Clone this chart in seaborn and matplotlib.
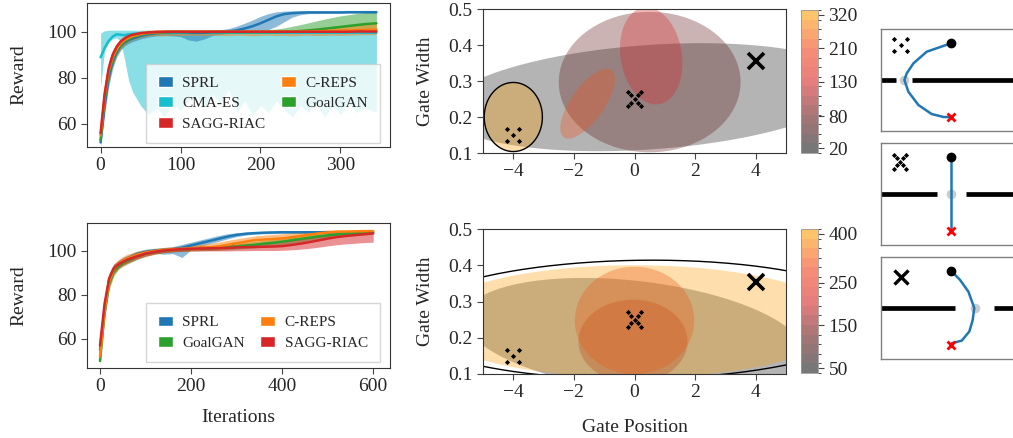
import numpy as np
import seaborn as sns
import matplotlib.pyplot as plt
from matplotlib.patches import Patch
from matplotlib.colors import LinearSegmentedColormap, ListedColormap, BoundaryNorm
from matplotlib.cm import ScalarMappable

sns.set_style("ticks")
plt.rcParams['font.family'] = ['Liberation Serif', 'DejaVu Serif']

pal = sns.color_palette("tab10")
c_sprl, c_creps, c_goal, c_sagg, c_cma = pal[0], pal[1], pal[2], pal[3], pal[9]

# ---------------- reward curves, top (gate env 1) ----------------
it_top = [0, 5, 10, 15, 20, 25, 30, 35, 40, 50, 60, 70, 80, 90, 100, 110, 120, 130, 140, 150,
          160, 170, 180, 190, 200, 210, 220, 230, 240, 250, 260, 270, 280, 290, 300, 310, 320, 330, 345]

sprl_m = [52, 68, 80, 87, 91, 94, 95.5, 96.5, 97.2, 98.3, 99, 99.5, 99.8, 100, 100, 99.8, 99.6, 99.7, 100, 100,
          100.2, 100.7, 101.5, 102.5, 103.8, 105.3, 106.8, 107.8, 108.2, 108.4, 108.5, 108.5, 108.5, 108.5, 108.5, 108.6, 108.6, 108.6, 108.6]
sprl_lo = [50, 64, 76, 84, 89, 92, 94, 95, 95.8, 97, 97.8, 98.3, 98.5, 98.3, 98, 96.5, 96, 97, 98.5, 99,
           99.3, 99.5, 99.6, 99.8, 100.2, 101, 102.5, 104.5, 106.5, 107.5, 108, 108, 108.1, 108.1, 108.1, 108.2, 108.2, 108.2, 108.2]
sprl_hi = [55, 72, 84, 90, 93, 96, 97, 98, 98.6, 99.5, 100, 100.4, 100.6, 100.7, 100.7, 100.6, 100.6, 100.7, 100.8, 101,
           101.5, 102.5, 103.8, 105.2, 106.8, 108, 108.8, 109.1, 109.2, 109.2, 109.2, 109.2, 109.2, 109.2, 109.2, 109.2, 109.2, 109.2, 109.2]

cma_m = [89, 93, 96, 98, 99, 98.8, 98.6, 99, 99.2, 99.4, 99.5, 99.6, 99.6, 99.6, 99.7, 99.7, 99.7, 99.7, 99.7, 99.7,
         99.7, 99.7, 99.7, 99.7, 99.7, 99.7, 99.7, 99.7, 99.7, 99.7, 99.7, 99.7, 99.7, 99.7, 99.7, 99.7, 99.7, 99.7, 99.7]
cma_lo = [76, 92, 95.5, 97, 97.5, 96, 88, 79, 74, 68, 64, 67, 63, 69, 66, 70, 72, 67, 73, 69,
          75, 65, 70, 64, 68, 65, 70, 66, 63, 68, 65, 69, 63, 68, 64, 69, 65, 67, 65]
cma_hi = [99.5, 100.5, 100.8, 100.8, 100.8, 100.8, 100.8, 100.8, 100.8, 100.8, 100.8, 100.8, 100.8, 100.8, 100.8, 100.8, 100.8, 100.8, 100.8, 100.8,
          100.8, 100.8, 100.8, 100.8, 100.8, 100.8, 100.8, 100.8, 100.8, 100.8, 100.8, 100.8, 100.8, 100.8, 100.8, 100.8, 100.8, 100.8, 100.8]

goal_m = [53, 70, 82, 88, 92, 94.5, 96, 97, 97.8, 98.8, 99.4, 99.7, 99.9, 100, 100, 100, 100, 100, 100, 100,
          100, 100, 100, 100, 100, 100, 100, 100.1, 100.2, 100.4, 100.7, 101, 101.4, 101.8, 102.2, 102.6, 103, 103.4, 103.8]
goal_lo = [51, 66, 78, 85, 90, 92.5, 94.5, 95.8, 96.8, 98, 98.7, 99.1, 99.3, 99.4, 99.4, 99.4, 99.4, 99.4, 99.4, 99.4,
           99.4, 99.4, 99.4, 99.4, 99.4, 99.4, 99.4, 99.4, 99.4, 99.5, 99.5, 99.6, 99.7, 99.8, 99.9, 100, 100.1, 100.2, 100.3]
goal_hi = [55, 73, 85, 90.5, 94, 96, 97.3, 98.2, 98.8, 99.6, 100.1, 100.4, 100.5, 100.6, 100.6, 100.6, 100.6, 100.6, 100.6, 100.6,
           100.6, 100.6, 100.6, 100.7, 100.8, 101, 101.3, 101.8, 102.5, 103.2, 104, 104.8, 105.6, 106.3, 107, 107.5, 108, 108.4, 108.7]

creps_m = [55, 72, 83, 89, 92.5, 95, 96.5, 97.5, 98.2, 99.1, 99.6, 99.9, 100, 100.1, 100.1, 100.1, 100.1, 100.1, 100.1, 100.1,
           100.1, 100.1, 100.1, 100.1, 100.1, 100.1, 100.1, 100.1, 100.1, 100.1, 100.2, 100.3, 100.4, 100.5, 100.6, 100.7, 100.8, 100.9, 101]
creps_lo = [52, 67, 79, 86, 90, 92.8, 94.5, 95.7, 96.5, 97.6, 98.2, 98.4, 98.3, 98.5, 98.4, 98.6, 98.5, 98.4, 98.6, 98.5,
            98.4, 98.6, 98.5, 98.3, 98.5, 98.6, 98.4, 98.5, 98.3, 98.5, 98.6, 98.4, 98.5, 98.6, 98.5, 98.6, 98.7, 98.8, 98.8]
creps_hi = [58, 76, 87, 92, 95, 97, 98.2, 99, 99.6, 100.4, 100.8, 101, 101, 101, 101, 101, 101, 101, 101, 101,
            101, 101, 101, 101, 101, 101, 101, 101, 101, 101.2, 101.5, 101.8, 102.1, 102.4, 102.7, 103, 103.3, 103.6, 104]

sagg_m = [56, 73, 84, 90, 93.5, 95.8, 97.2, 98.2, 98.8, 99.5, 99.8, 100, 100.1, 100.1, 100.1, 100.1, 100.1, 100.1, 100.1, 100.1,
          100.1, 100.1, 100.1, 100.1, 100.1, 100.1, 100.1, 100.1, 100.1, 100.1, 100.1, 100.1, 100.1, 100.1, 100.1, 100.1, 100.2, 100.2, 100.2]
sagg_lo = [52, 69, 81, 88, 92, 94.6, 96.2, 97.4, 98.1, 98.9, 99.2, 99.4, 99.5, 99.5, 99.5, 99.5, 99.5, 99.5, 99.5, 99.5,
           99.5, 99.5, 99.5, 99.5, 99.5, 99.5, 99.5, 99.5, 99.5, 99.5, 99.5, 99.5, 99.5, 99.5, 99.5, 99.5, 99.5, 99.5, 99.5]
sagg_hi = [60, 77, 87, 92, 95, 97, 98.2, 99, 99.5, 100.1, 100.4, 100.6, 100.7, 100.7, 100.7, 100.7, 100.7, 100.7, 100.7, 100.7,
           100.7, 100.7, 100.7, 100.7, 100.7, 100.7, 100.7, 100.7, 100.7, 100.7, 100.7, 100.7, 100.8, 100.8, 100.8, 100.9, 100.9, 101, 101]

# ---------------- reward curves, bottom (gate env 2) ----------------
it_bot = [0, 10, 20, 30, 40, 50, 60, 80, 100, 120, 140, 160, 180, 200, 220, 240, 260, 280, 300, 320,
          340, 360, 380, 400, 420, 440, 460, 480, 500, 520, 540, 560, 580, 600]

sprl_b_m = [55, 74, 87, 92, 94, 95.5, 96.5, 98.5, 99.6, 100.2, 100.5, 100.8, 101.5, 102.5, 103.5, 104.5, 105.5, 106.5, 107.3, 107.8,
            108.1, 108.3, 108.4, 108.5, 108.5, 108.5, 108.5, 108.5, 108.5, 108.5, 108.5, 108.5, 108.5, 108.5]
sprl_b_lo = [52, 71, 85, 90.5, 92.5, 94, 95, 97, 98.3, 99, 98.5, 98.8, 97, 100.5, 102, 103.3, 104.3, 105.5, 106.5, 107.2,
             107.6, 107.8, 107.9, 108, 108, 108, 108, 108, 108, 108, 108, 108, 108, 108]
sprl_b_hi = [58, 77, 89, 93.5, 95.5, 97, 98, 99.8, 100.8, 101.2, 101.5, 102, 103, 104, 105, 106, 107, 107.8, 108.3, 108.6,
             108.8, 108.9, 109, 109, 109, 109, 109, 109, 109, 109, 109, 109, 109, 109]

goal_b_m = [50, 72, 85, 90.5, 93, 94.5, 95.5, 97.5, 98.8, 99.6, 100.2, 100.6, 100.8, 101, 101.1, 101.2, 101.4, 101.7, 102, 102.4,
            102.8, 103.3, 103.7, 104.2, 104.8, 105.4, 106, 106.6, 107.1, 107.5, 107.8, 108.1, 108.3, 108.5]
goal_b_lo = [48, 69, 82.5, 88.5, 91.5, 93, 94, 96, 97.5, 98.5, 99.2, 99.6, 99.8, 100, 100.1, 100.2, 100.3, 100.5, 100.8, 101.1,
             101.4, 101.8, 102.2, 102.7, 103.3, 104, 104.7, 105.3, 105.8, 106.3, 106.7, 107, 107.3, 107.5]
goal_b_hi = [52, 75, 87.5, 92.5, 94.5, 96, 97, 98.8, 99.9, 100.6, 101.1, 101.5, 101.8, 102, 102.2, 102.4, 102.6, 103, 103.4, 103.8,
             104.3, 104.8, 105.3, 105.8, 106.4, 107, 107.5, 107.9, 108.3, 108.6, 108.8, 109, 109.2, 109.3]

creps_b_m = [52, 73, 86, 91.5, 94, 95.5, 96.5, 98.2, 99.3, 100, 100.5, 100.8, 101, 101.2, 101.4, 101.6, 102, 102.8, 103.5, 104.2,
             104.9, 105.2, 105.4, 105.7, 106.2, 106.8, 107.4, 108, 108.4, 108.7, 108.8, 108.9, 109, 109]
creps_b_lo = [49, 69, 83, 89, 92, 93.5, 94.5, 96.5, 97.8, 98.8, 99.3, 99.6, 99.8, 100, 100.2, 100.3, 100.5, 101, 101.6, 102.2,
              102.8, 103.2, 103.5, 103.9, 104.4, 105, 105.6, 106.2, 106.8, 107.2, 107.5, 107.7, 107.9, 108]
creps_b_hi = [55, 77, 89, 94, 96, 97.5, 98.5, 99.8, 100.6, 101.1, 101.6, 101.9, 102.2, 102.5, 102.9, 103.4, 104, 104.8, 105.5, 106.2,
              106.8, 107.2, 107.5, 107.8, 108.2, 108.6, 109, 109.3, 109.5, 109.6, 109.6, 109.6, 109.6, 109.6]

sagg_b_m = [57, 76, 87.5, 92, 93.8, 95, 96, 97.5, 98.8, 99.6, 100.2, 100.6, 100.8, 101, 101.1, 101.2, 101.3, 101.4, 101.6, 101.7,
            101.8, 101.9, 102, 102.2, 102.7, 103.3, 104, 104.8, 105.6, 106.3, 106.8, 107.2, 107.6, 108]
sagg_b_lo = [54, 73, 85, 90, 92, 93.5, 94.5, 96.2, 97.6, 98.5, 99.2, 99.6, 99.8, 100, 100, 100, 100, 100, 100.1, 100.1,
             100.2, 100.2, 100.2, 100.3, 100.5, 100.8, 101.2, 101.7, 102.3, 102.8, 103.2, 103.5, 103.8, 104]
sagg_b_hi = [60, 79, 90, 94, 95.5, 96.5, 97.5, 98.8, 100, 100.7, 101.2, 101.6, 101.8, 102, 102.2, 102.4, 102.6, 102.8, 103, 103.2,
             103.4, 103.6, 103.8, 104.1, 104.7, 105.4, 106.2, 107, 107.7, 108.2, 108.6, 108.9, 109.1, 109.3]

# ---------------- context distributions (ellipses: cx, cy, semi-x, semi-y, corr) ----------------
top_iters = [20, 80, 130, 210, 320]
top_cb_pos = [0.5, 3.85, 7.5, 11.0, 14.5]
top_cx = [0.5, 0.5, 0.55, -1.55, -4.0]
top_cy = [0.255, 0.297, 0.37, 0.237, 0.2]
top_sx = [6.8, 3.0, 1.03, 0.9, 0.96]
top_sy = [0.15, 0.195, 0.135, 0.097, 0.096]
top_rho = [0.25, 0.0, -0.15, 0.7, 0.0]

bot_iters = [50, 150, 250, 400]
bot_cb_pos = [0.5, 5.0, 9.4, 14.5]
bot_cx = [0.0, -0.05, 0.0, 0.0]
bot_cy = [0.205, 0.19, 0.248, 0.245]
bot_sx = [5.6, 1.8, 1.97, 6.9]
bot_sy = [0.16, 0.115, 0.148, 0.155]
bot_rho = [-0.3, 0.0, 0.0, 0.0]
bot_outline = (0.2, 0.25, 7.9, 0.164, 0.05)

# target contexts
easy_pos, easy_width = -4.0, 0.15
mid_pos, mid_width = 0.0, 0.25
far_pos, far_width = 4.0, 0.355
dice_dx = [-0.2, 0.2, 0.0, -0.2, 0.2]
dice_dy = [0.017, 0.017, 0.0, -0.017, -0.017]
cross_dx = [-0.2, -0.1, 0.0, 0.1, 0.2, -0.2, -0.1, 0.1, 0.2]
cross_dy = [0.02, 0.01, 0.0, -0.01, -0.02, -0.02, -0.01, 0.01, 0.02]

# ---------------- trajectories in the small panels ----------------
gate_x = [-4.0, 0.04, 2.0]
gate_w = [1.36, 2.47, 3.3]
traj1_x = [0, -2.07, -3.2, -3.77, -3.97, -3.63, -2.78, -1.65, -0.65, 0]
traj1_y = [0.72, 0.555, 0.327, 0.13, 0.0, -0.23, -0.49, -0.667, -0.725, -0.73]
traj2_x = [0, 0, 0]
traj2_y = [0.72, 0.0, -0.72]
traj3_x = [0, 0.77, 1.48, 1.98, 1.84, 1.56, 0.91, 0.06]
traj3_y = [0.73, 0.55, 0.32, 0.0, -0.24, -0.46, -0.64, -0.69]
start_xy = (0.0, 0.72)
goal_xy = (0.0, -0.72)

W, H = 1013, 438
fig = plt.figure(figsize=(W / 100, H / 100), dpi=100)


def px_axes(l, t, r, b):
    return fig.add_axes([l / W, 1 - b / H, (r - l) / W, (b - t) / H])


FS = 14


def reward_panel(ax, it, series, xticks, ylim, xlim, show_xlabel, legend_order, leg_y):
    for name, col, m, lo, hi in series:
        ax.fill_between(it, lo, hi, color=col, alpha=0.5, lw=0)
    for name, col, m, lo, hi in series:
        sns.lineplot(x=it, y=m, ax=ax, color=col, lw=1.8)
    ax.set_xlim(*xlim)
    ax.set_ylim(*ylim)
    ax.set_xticks(xticks)
    ax.set_yticks([60, 80, 100])
    ax.set_ylabel("Reward", fontsize=FS, labelpad=14)
    if show_xlabel:
        ax.set_xlabel("Iterations", fontsize=FS, labelpad=10)
    ax.tick_params(labelsize=FS, length=4, color="#444444")
    cols = {s[0]: s[1] for s in series}
    handles = [Patch(facecolor=cols[n], label=n) for n in legend_order]
    ax.legend(handles=handles, ncol=2, loc="lower right", fontsize=11, handlelength=1.0,
              handleheight=0.7, handletextpad=0.6, columnspacing=1.0, borderpad=0.8,
              labelspacing=0.45, borderaxespad=0, fancybox=False, framealpha=0.8,
              edgecolor="#cccccc", bbox_to_anchor=(0.967, leg_y))
    for s in ax.spines.values():
        s.set_color("#333333")


ax1 = px_axes(87, 3, 390, 147)
reward_panel(ax1, it_top,
             [("CMA-ES", c_cma, cma_m, cma_lo, cma_hi),
              ("SPRL", c_sprl, sprl_m, sprl_lo, sprl_hi),
              ("GoalGAN", c_goal, goal_m, goal_lo, goal_hi),
              ("C-REPS", c_creps, creps_m, creps_lo, creps_hi),
              ("SAGG-RIAC", c_sagg, sagg_m, sagg_lo, sagg_hi)],
             [0, 100, 200, 300], (50, 112.6), (-17, 362), False,
             ["SPRL", "CMA-ES", "SAGG-RIAC", "C-REPS", "GoalGAN"], 0.028)

ax2 = px_axes(87, 223, 390, 368)
reward_panel(ax2, it_bot,
             [("SPRL", c_sprl, sprl_b_m, sprl_b_lo, sprl_b_hi),
              ("GoalGAN", c_goal, goal_b_m, goal_b_lo, goal_b_hi),
              ("C-REPS", c_creps, creps_b_m, creps_b_lo, creps_b_hi),
              ("SAGG-RIAC", c_sagg, sagg_b_m, sagg_b_lo, sagg_b_hi)],
             [0, 200, 400, 600], (46.8, 112.7), (-28.6, 637), True,
             ["SPRL", "GoalGAN", "C-REPS", "SAGG-RIAC"], 0.041)

# colormap: near-black -> dark red -> red -> orange
base_cmap = LinearSegmentedColormap.from_list(
    "gate", ["#1c1c1c", "#6e1a1a", "#d82828", "#f0441a", "#fc9d07"], N=256)
seg_cols = base_cmap(np.linspace(0, 1, 15))


def ellipse_xy(cx, cy, sx, sy, rho):
    t = np.linspace(0, 2 * np.pi, 300)
    x = cx + sx * np.cos(t)
    y = cy + sy * (rho * np.cos(t) + np.sqrt(1 - rho ** 2) * np.sin(t))
    return x, y


def context_panel(ax, cax, iters, pos, cxs, cys, sxs, sys_, rhos, outline, show_xlabel):
    n = len(iters)
    for i in range(n):
        x, y = ellipse_xy(cxs[i], cys[i], sxs[i], sys_[i], rhos[i])
        ax.fill(x, y, color=seg_cols[int(pos[i])], alpha=0.33, lw=0)
    ox, oy = ellipse_xy(*outline)
    ax.plot(ox, oy, color="black", lw=1.0)
    ax.scatter([easy_pos + d for d in dice_dx], [easy_width + d for d in dice_dy],
               marker="D", s=7, color="black", lw=0, zorder=5)
    ax.scatter([mid_pos + d for d in cross_dx], [mid_width + d for d in cross_dy],
               marker="D", s=7, color="black", lw=0, zorder=5)
    ax.plot([far_pos], [far_width], marker="x", ms=11, mew=2.6, color="black", zorder=5)
    ax.set_xlim(-5, 5)
    ax.set_ylim(0.1, 0.5)
    ax.set_xticks([-4, -2, 0, 2, 4])
    ax.set_yticks([0.1, 0.2, 0.3, 0.4, 0.5])
    ax.set_ylabel("Gate Width", fontsize=FS, labelpad=10)
    if show_xlabel:
        ax.set_xlabel("Gate Position", fontsize=FS, labelpad=13)
    ax.tick_params(labelsize=FS, length=4, color="#444444")
    for s in ax.spines.values():
        s.set_color("#333333")
    cb_cols = seg_cols.copy()
    cb_cols[:, 3] = 0.6
    sm = ScalarMappable(norm=BoundaryNorm(np.arange(16), 15), cmap=ListedColormap(cb_cols))
    cb = fig.colorbar(sm, cax=cax, ticks=pos)
    cb.ax.set_yticklabels([str(v) for v in iters])
    cb.ax.tick_params(labelsize=FS, length=4, color="#444444")
    cb.outline.set_edgecolor("#999999")
    cb.outline.set_linewidth(0.6)


axm1 = px_axes(483, 9, 786, 153)
cb1 = px_axes(801, 10, 818, 153)
context_panel(axm1, cb1, top_iters, top_cb_pos, top_cx, top_cy, top_sx, top_sy, top_rho,
              (top_cx[-1], top_cy[-1], top_sx[-1], top_sy[-1], top_rho[-1]), False)

axm2 = px_axes(483, 229, 786, 374)
cb2 = px_axes(801, 229, 818, 373)
context_panel(axm2, cb2, bot_iters, bot_cb_pos, bot_cx, bot_cy, bot_sx, bot_sy, bot_rho,
              bot_outline, True)

# small trajectory panels
panels = [px_axes(881, 29, 1020, 131), px_axes(881, 143, 1020, 245), px_axes(881, 257, 1020, 359)]
trajs = [(traj1_x, traj1_y), (traj2_x, traj2_y), (traj3_x, traj3_y)]
icon_centers = [(-4.3, 0.69), (-4.34, 0.63), (-4.28, 0.61)]
xl = (-5.96, 5.87)
for k, ax in enumerate(panels):
    g, w = gate_x[k], gate_w[k]
    ax.plot([xl[0], g - w / 2], [0, 0], color="black", lw=3.4, solid_capstyle="butt")
    ax.plot([g + w / 2, xl[1]], [0, 0], color="black", lw=3.4, solid_capstyle="butt")
    ax.plot([g], [0], "o", ms=7, color="#cccccc", mec="none", zorder=3)
    ax.plot(trajs[k][0], trajs[k][1], color=c_sprl, lw=1.8, zorder=4)
    ax.plot([start_xy[0]], [start_xy[1]], "o", ms=6, color="black", zorder=5)
    ax.plot([goal_xy[0]], [goal_xy[1]], "x", ms=6, mew=2, color="red", zorder=5)
    icx, icy = icon_centers[k]
    if k == 0:
        ax.scatter([icx + 2.7 * d for d in dice_dx], [icy + 6.9 * d for d in dice_dy],
                   marker="D", s=7, color="black", lw=0)
    elif k == 1:
        ax.scatter([icx + 2.7 * d for d in cross_dx], [icy + 6.9 * d for d in cross_dy],
                   marker="D", s=7, color="black", lw=0)
    else:
        ax.plot([icx], [icy], "x", ms=10, mew=2.4, color="black")
    ax.set_xlim(*xl)
    ax.set_ylim(-1, 1)
    ax.set_xticks([])
    ax.set_yticks([])
    for s in ax.spines.values():
        s.set_color("#808080")
        s.set_linewidth(1.0)

fig.savefig("out.png", dpi=100)
